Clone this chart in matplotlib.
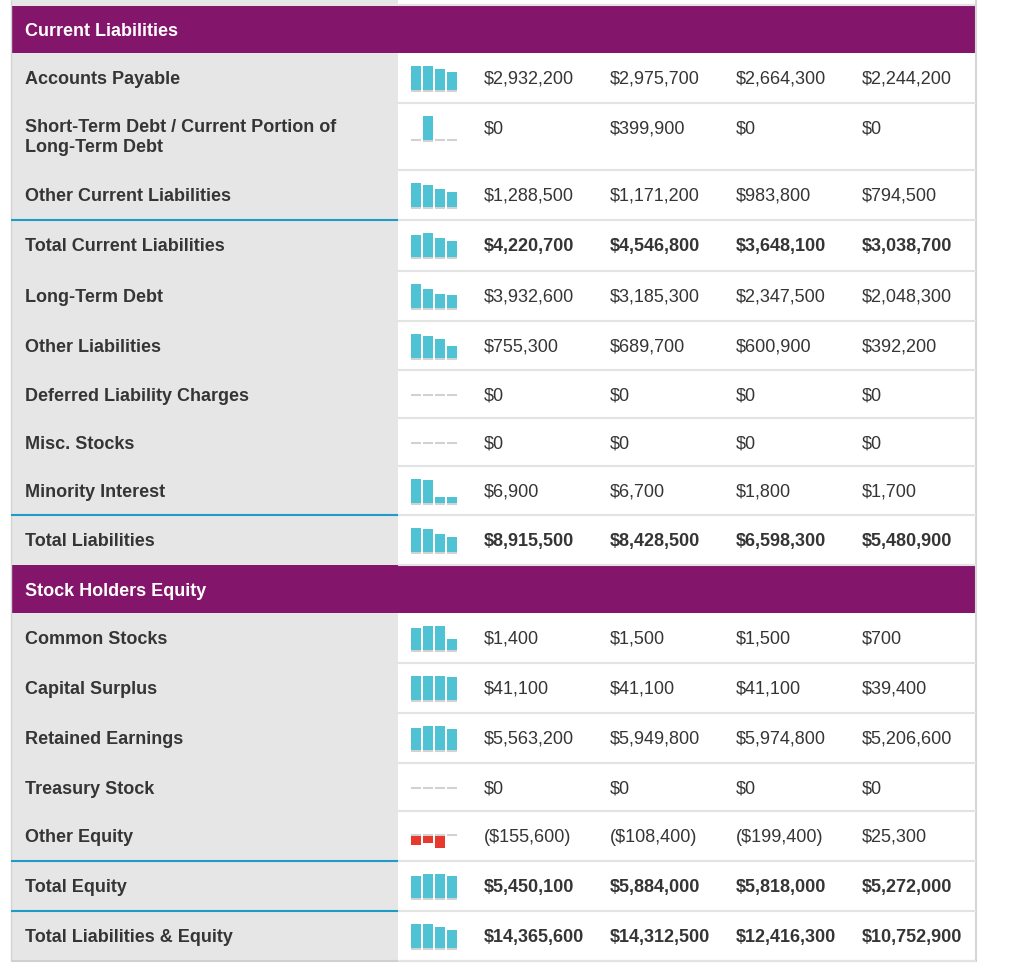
import matplotlib
matplotlib.use("Agg")
import matplotlib.pyplot as plt
import matplotlib.transforms as mtransforms
from matplotlib.patches import Rectangle

SECTION_TITLES = ["Current Liabilities", "Stock Holders Equity"]

LIABILITY_LABELS = [
    "Accounts Payable",
    "Short-Term Debt / Current Portion of\nLong-Term Debt",
    "Other Current Liabilities",
    "Total Current Liabilities",
    "Long-Term Debt",
    "Other Liabilities",
    "Deferred Liability Charges",
    "Misc. Stocks",
    "Minority Interest",
    "Total Liabilities",
]

LIABILITY_VALUES = [
    [2932200, 2975700, 2664300, 2244200],
    [0, 399900, 0, 0],
    [1288500, 1171200, 983800, 794500],
    [4220700, 4546800, 3648100, 3038700],
    [3932600, 3185300, 2347500, 2048300],
    [755300, 689700, 600900, 392200],
    [0, 0, 0, 0],
    [0, 0, 0, 0],
    [6900, 6700, 1800, 1700],
    [8915500, 8428500, 6598300, 5480900],
]

EQUITY_LABELS = [
    "Common Stocks",
    "Capital Surplus",
    "Retained Earnings",
    "Treasury Stock",
    "Other Equity",
    "Total Equity",
    "Total Liabilities & Equity",
]

EQUITY_VALUES = [
    [1400, 1500, 1500, 700],
    [41100, 41100, 41100, 39400],
    [5563200, 5949800, 5974800, 5206600],
    [0, 0, 0, 0],
    [-155600, -108400, -199400, 25300],
    [5450100, 5884000, 5818000, 5272000],
    [14365600, 14312500, 12416300, 10752900],
]

TOTAL_ROWS = [
    "Total Current Liabilities",
    "Total Liabilities",
    "Total Equity",
    "Total Liabilities & Equity",
]

# rows followed by a blue rule in the label column
BLUE_RULE_AFTER = [
    "Other Current Liabilities",
    "Minority Interest",
    "Other Equity",
    "Total Equity",
]

# layout (pixels)
W, H = 1024, 972
TABLE_TOP = 6
ROW_HEIGHTS = [47, 50, 67, 50, 51, 50, 49, 48, 48, 49, 50,
               48, 50, 50, 50, 48, 50, 50, 50]
LEFT, SPLIT, RIGHT = 11, 398, 976
VALUE_X = [484, 610, 736, 862]
SPARK_X, SPARK_W, SPARK_H = 410, 48, 24

PURPLE = "#83166a"
LABEL_BG = "#e6e6e6"
CYAN = "#4fc3d3"
RED = "#e8392f"
BLUE = "#1f9bc7"
RULE = "#e3e3e3"
TEXT = "#353535"
FONT = "Liberation Sans"
FS = 13


def fmt(v):
    return f"(${-v:,})" if v < 0 else f"${v:,}"


def sparkline(fig, y_text, values):
    top = y_text - 11
    sax = fig.add_axes([SPARK_X / W, 1 - (top + SPARK_H) / H, SPARK_W / W, SPARK_H / H])
    vmax = max(abs(v) for v in values)
    if vmax == 0:
        sax.set_ylim(-1, 1)
    elif min(values) < 0:
        sax.set_ylim(-vmax, vmax)
    else:
        sax.set_ylim(0, vmax)
    sax.set_xlim(-0.5, len(values) - 0.5)
    pos = range(len(values))
    sax.bar(pos, values, width=0.89, linewidth=0,
            color=[RED if v < 0 else CYAN for v in values], zorder=2)
    mixed = min(values) < 0
    for i, v in enumerate(values):
        dy = -1.2 if v > 0 else (1.2 if v < 0 else 0)
        if mixed and v > 0:
            dy = 0.6
        tr = mtransforms.offset_copy(sax.transData, fig=fig, y=dy, units="dots")
        sax.plot([i - 0.445, i + 0.445], [0, 0], color="#d2d2d2", lw=1.5,
                 solid_capstyle="butt", transform=tr, clip_on=False,
                 zorder=3 if mixed and v > 0 else 1)
    sax.axis("off")


def main() -> None:
    fig = plt.figure(figsize=(W / 100, H / 100), dpi=100)
    ax = fig.add_axes([0, 0, 1, 1])
    ax.set_xlim(0, W)
    ax.set_ylim(H, 0)
    ax.axis("off")

    rows = [("header", SECTION_TITLES[0], None)]
    rows += [("row", l, v) for l, v in zip(LIABILITY_LABELS, LIABILITY_VALUES)]
    rows += [("header", SECTION_TITLES[1], None)]
    rows += [("row", l, v) for l, v in zip(EQUITY_LABELS, EQUITY_VALUES)]

    bottom = TABLE_TOP + sum(ROW_HEIGHTS)

    # top remnant of the previous block
    ax.add_patch(Rectangle((LEFT, 0), SPLIT - LEFT, TABLE_TOP, color=LABEL_BG, lw=0))
    ax.hlines(TABLE_TOP - 0.5, SPLIT, RIGHT, color=RULE, lw=1.5)
    # label column background and borders
    ax.add_patch(Rectangle((LEFT, TABLE_TOP), SPLIT - LEFT, bottom - TABLE_TOP,
                           color=LABEL_BG, lw=0))
    ax.vlines(LEFT, 0, bottom, color="#d4d4d4", lw=1)
    ax.vlines(RIGHT, 0, bottom, color="#d6d6d6", lw=1.5)
    ax.hlines(bottom, LEFT, RIGHT + 1, color="#d0d0d0", lw=1.5)

    y = TABLE_TOP
    for (kind, label, values), h in zip(rows, ROW_HEIGHTS):
        ty = y + 24
        if kind == "header":
            ax.add_patch(Rectangle((LEFT, y), RIGHT - LEFT, h, color=PURPLE, lw=0))
            ax.text(25, ty + 6.5, label, color="white", fontsize=FS,
                    fontweight="bold", family=FONT, va="baseline")
        else:
            bold = "bold" if label in TOTAL_ROWS else "normal"
            if "\n" in label:
                ax.text(25, y + h / 2 + 1, label, color=TEXT, fontsize=FS,
                        fontweight="bold", family=FONT, va="center",
                        linespacing=1.3)
            else:
                ax.text(25, ty + 6.5, label, color=TEXT, fontsize=FS,
                        fontweight="bold", family=FONT, va="baseline")
            for x, v in zip(VALUE_X, values):
                ax.text(x, ty + 6.5, fmt(v), color=TEXT, fontsize=FS,
                        fontweight=bold, family=FONT, va="baseline")
            sparkline(fig, ty, values)
            ax.hlines(y + h, SPLIT, RIGHT, color=RULE, lw=1.5)
            if label in BLUE_RULE_AFTER:
                ax.hlines(y + h, LEFT, SPLIT, color=BLUE, lw=1.5)
        y += h

    fig.savefig("out.png", dpi=100)
    plt.close(fig)


if __name__ == "__main__":
    main()
